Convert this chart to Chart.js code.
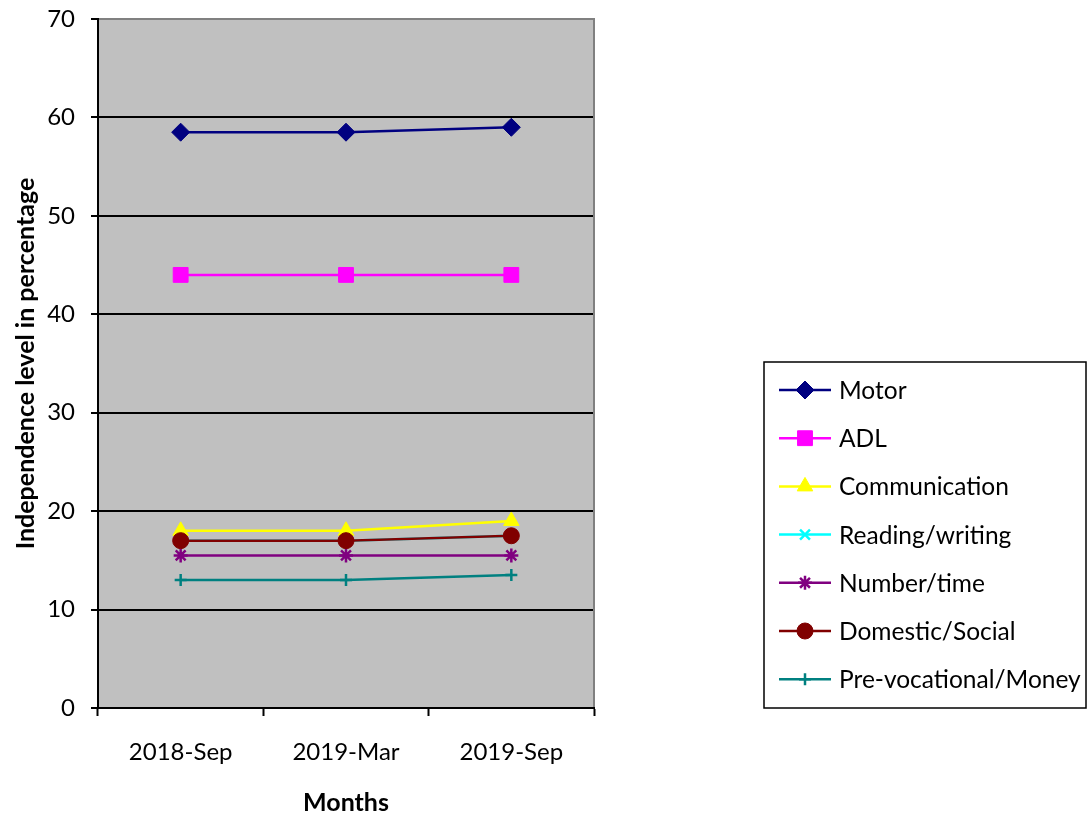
<!DOCTYPE html>
<html>
<head>
<meta charset="utf-8">
<script src="https://cdn.jsdelivr.net/npm/chart.js@4/dist/chart.umd.min.js"></script>
<style>
  html, body { margin: 0; padding: 0; background: #fff; }
  #wrap { width: 1087px; height: 815px; }
</style>
</head>
<body>
<div id="wrap"><canvas id="chart"></canvas></div>
<script>
// ====================
// データ
// ====================
const months = ["2018-Sep", "2019-Mar", "2019-Sep"];
const motor = [58.5, 58.5, 59];
const adl = [44, 44, 44];
const communication = [18, 18, 19];
const readingWriting = [17, 17, 17.5];
const numberTime = [15.5, 15.5, 15.5];
const domesticSocial = [17, 17, 17.5];
const preVocational = [13, 13, 13.5];
const yTicks = [0, 10, 20, 30, 40, 50, 60, 70];

const FONT = "Lato, 'Open Sans', sans-serif";

// ====================
// 系列
// ====================
const series = [
    { label: "Motor", data: motor, color: "#000080", style: "rectRot", r: 9 },
    { label: "ADL", data: adl, color: "#FF00FF", style: "rect", r: 10.5 },
    { label: "Communication", data: communication, color: "#FFFF00", style: "triangle", r: 9 },
    { label: "Reading/writing", data: readingWriting, color: "#00FFFF", style: "crossRot", r: 7 },
    { label: "Number/time", data: numberTime, color: "#800080", style: "star", r: 7 },
    { label: "Domestic/Social", data: domesticSocial, color: "#800000", style: "circle", r: 8 },
    { label: "Pre-vocational/Money", data: preVocational, color: "#008080", style: "cross", r: 6 }
];

const datasets = series.map((s, i) => ({
    label: s.label,
    data: s.data,
    borderColor: s.color,
    backgroundColor: s.color,
    borderWidth: 2.5,
    pointStyle: s.style,
    pointRadius: s.r,
    pointBorderWidth: (s.style === "cross" || s.style === "crossRot" || s.style === "star") ? 2.5 : 1,
    pointHoverRadius: s.r,
    tension: 0,
    order: series.length - i   // 後の系列を上に描く
}));

// 灰色のプロット領域
const plotBg = {
    id: "plotBg",
    beforeDraw(chart) {
        const { ctx, chartArea: a } = chart;
        ctx.save();
        ctx.fillStyle = "#C0C0C0";
        ctx.fillRect(a.left, a.top, a.right - a.left, a.bottom - a.top);
        ctx.restore();
    },
    afterDatasetsDraw(chart) {
        const { ctx, chartArea: a } = chart;
        ctx.save();
        ctx.strokeStyle = "#808080";
        ctx.lineWidth = 2;
        ctx.beginPath();
        ctx.moveTo(a.left + 1, a.top);
        ctx.lineTo(a.right, a.top);
        ctx.lineTo(a.right, a.bottom - 1);
        ctx.stroke();
        ctx.restore();
    }
};

// 右側の凡例（線＋マーカー）
const sideLegend = {
    id: "sideLegend",
    afterDraw(chart) {
        const ctx = chart.ctx;
        const box = { x: 764, y: 362, w: 322, h: 346 };
        ctx.save();
        ctx.strokeStyle = "#000";
        ctx.lineWidth = 1.5;
        ctx.strokeRect(box.x, box.y, box.w, box.h);
        ctx.font = "24.5px " + FONT;
        ctx.textBaseline = "middle";
        chart.data.datasets.forEach((ds, i) => {
            const y = 390 + i * 48.2;
            ctx.strokeStyle = ds.borderColor;
            ctx.fillStyle = ds.borderColor;
            ctx.lineWidth = 2.5;
            ctx.beginPath();
            ctx.moveTo(779, y);
            ctx.lineTo(831, y);
            ctx.stroke();
            ctx.lineWidth = ds.pointBorderWidth;
            Chart.helpers.drawPoint(ctx, {
                pointStyle: ds.pointStyle,
                radius: ds.pointRadius,
                rotation: 0,
                borderWidth: ds.pointBorderWidth
            }, 805, y);
            ctx.fillStyle = "#000";
            ctx.fillText(ds.label, 839, y + 1);
        });
        ctx.restore();
    }
};

new Chart(document.getElementById("chart"), {
    type: "line",
    data: { labels: months, datasets: datasets },
    options: {
        responsive: true,
        maintainAspectRatio: false,
        animation: false,
        layout: { padding: { top: 0, right: 493, left: 7, bottom: 0 } },
        plugins: {
            legend: { display: false },
            tooltip: { enabled: false }
        },
        scales: {
            x: {
                offset: true,
                afterFit(scale) { scale.height = 107; },
                grid: {
                    offset: true,
                    drawOnChartArea: false,
                    drawTicks: true,
                    tickLength: 8,
                    tickColor: "#000",
                    tickWidth: 2
                },
                border: { color: "#000", width: 2 },
                ticks: { color: "#000", font: { family: FONT, size: 24 }, padding: 22, maxRotation: 0 },
                title: {
                    display: true,
                    text: "Months",
                    color: "#000",
                    font: { family: FONT, size: 25, weight: "bold", lineHeight: 1 },
                    padding: { top: 20, bottom: 0 }
                }
            },
            y: {
                min: 0,
                max: 70,
                afterFit(scale) {
                    scale.width = 91;
                    scale.paddingTop = 19;
                    scale.paddingBottom = 0;
                },
                afterBuildTicks(axis) { axis.ticks = yTicks.map(v => ({ value: v })); },
                grid: {
                    color: ctx => (ctx.tick && ctx.tick.value === 70) ? "rgba(0,0,0,0)" : "#000",
                    lineWidth: 2,
                    tickLength: 7,
                    tickColor: "#000",
                    tickWidth: 2
                },
                border: { color: "#000", width: 2 },
                ticks: { color: "#000", font: { family: FONT, size: 24 }, padding: 16 },
                title: {
                    display: true,
                    text: "Independence level in percentage",
                    color: "#000",
                    font: { family: FONT, size: 25, weight: "bold" },
                    padding: { bottom: 12 }
                }
            }
        }
    },
    plugins: [plotBg, sideLegend]
});
</script>
</body>
</html>
